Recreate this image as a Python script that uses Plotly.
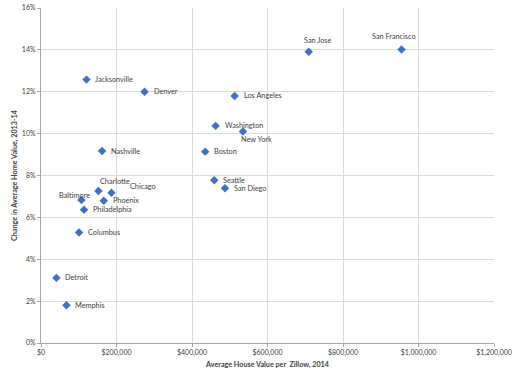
import plotly.graph_objects as go

cities = ["Jacksonville", "Denver", "Los Angeles", "Washington", "New York", "Nashville",
          "Boston", "Seattle", "San Diego", "San Jose", "San Francisco", "Charlotte",
          "Chicago", "Baltimore", "Phoenix", "Philadelphia", "Columbus", "Detroit", "Memphis"]
house_value = [120400, 274300, 513000, 462600, 535000, 161800,
               435000, 459000, 487300, 709300, 955000, 152200,
               186700, 107100, 166300, 114000, 100800, 40800, 67400]
change_pct = [12.58, 12.0, 11.8, 10.37, 10.1, 9.17,
              9.14, 7.77, 7.39, 13.91, 14.02, 7.26,
              7.18, 6.83, 6.79, 6.36, 5.28, 3.11, 1.8]
x_ticks = [0, 200000, 400000, 600000, 800000, 1000000, 1200000]
x_tick_labels = ["$0", "$200,000", "$400,000", "$600,000", "$800,000", "$1,000,000", "$1,200,000"]
y_ticks = [0, 2, 4, 6, 8, 10, 12, 14, 16]
y_tick_labels = ["0%", "2%", "4%", "6%", "8%", "10%", "12%", "14%", "16%"]

# label placement style: (xanchor, xshift px, yshift px)
label_style = {
    "San Jose": ("center", 9, 11),
    "San Francisco": ("center", -8, 13),
    "New York": ("left", -4, -8),
    "Charlotte": ("left", 0, 9),
    "Chicago": ("left", 17, 6),
    "Baltimore": ("right", 11, 5),
}
default_style = ("left", 7, 0)

FONT = "Lato, Open Sans, sans-serif"
TXT = "#404040"
fig = go.Figure(go.Scatter(
    x=house_value, y=change_pct, mode="markers",
    marker=dict(symbol="diamond", size=6.5, color="#4170c0"),
    text=cities, hoverinfo="x+y+text",
))
for c, xv, yv in zip(cities, house_value, change_pct):
    xa, xs, ys = label_style.get(c, default_style)
    fig.add_annotation(x=xv, y=yv, text=c, showarrow=False, xanchor=xa, yanchor="middle",
                       xshift=xs, yshift=ys, font=dict(family=FONT, size=7.3, color=TXT))

fig.update_layout(
    width=520, height=378, margin=dict(l=41, r=26, t=8, b=35),
    paper_bgcolor="white", plot_bgcolor="white", showlegend=False,
    font=dict(family=FONT, size=7, color=TXT),
)
fig.update_xaxes(
    range=[0, 1200000], tickvals=x_ticks, ticktext=x_tick_labels, automargin=False,
    showgrid=True, gridcolor="#d9d9d9", gridwidth=1, zeroline=False,
    showline=True, linecolor="#a6a6a6", linewidth=1, ticks="outside", ticklen=3,
    tickcolor="#a6a6a6", tickfont=dict(size=7, color=TXT),
    title=dict(text="<b>Average House Value per  Zillow, 2014</b>", font=dict(size=7.2, color=TXT), standoff=5),
)
fig.update_yaxes(
    range=[0, 16], tickvals=y_ticks, ticktext=y_tick_labels, automargin=False,
    showgrid=True, gridcolor="#d9d9d9", gridwidth=1, zeroline=False,
    showline=True, linecolor="#a6a6a6", linewidth=1, ticks="outside", ticklen=3,
    tickcolor="#a6a6a6", tickfont=dict(size=7, color=TXT),
    title=dict(text="<b>Change in Average Home Value, 2013-14</b>", font=dict(size=7.2, color=TXT), standoff=3),
)
fig.write_html("out.html", config={"displayModeBar": False},
               post_script="document.body.style.margin='0';")
